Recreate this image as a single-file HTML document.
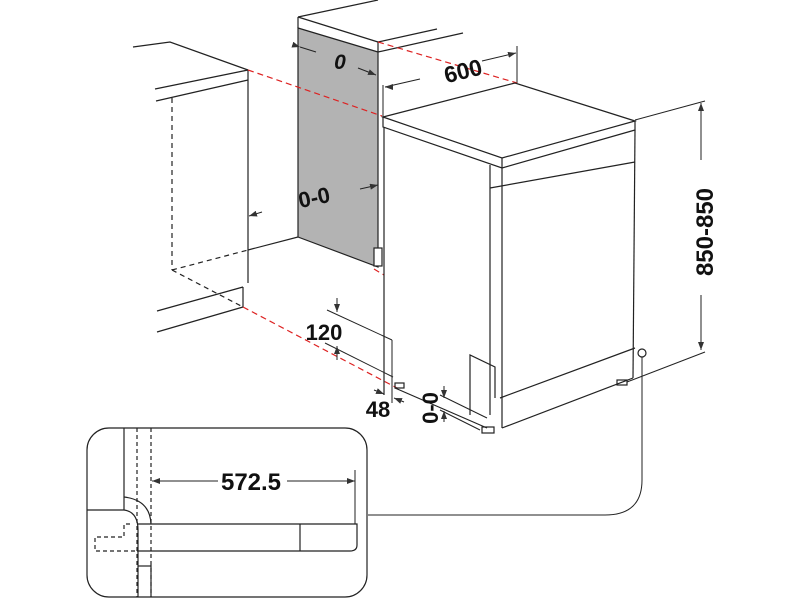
<!DOCTYPE html>
<html><head><meta charset="utf-8"><style>
html,body{margin:0;padding:0;background:#fff;}
svg{display:block;}
text{font-family:"Liberation Sans",sans-serif;font-weight:bold;fill:#111;}
</style></head><body>
<svg width="800" height="600" viewBox="0 0 800 600" xmlns="http://www.w3.org/2000/svg">
<defs>
<marker id="a" markerWidth="8" markerHeight="6" refX="8" refY="3" orient="auto" markerUnits="userSpaceOnUse"><path d="M0,0 L8,3 L0,6 z" fill="#333"/></marker>
</defs>
<g fill="none" stroke="#222" stroke-width="1.2">
<!-- left cabinet -->
<polyline points="133,47 170,42 248,70"/>
<line x1="155" y1="89" x2="248" y2="70"/>
<line x1="156" y1="101" x2="248" y2="80"/>
<line x1="248" y1="70" x2="248" y2="283"/>
<line x1="172" y1="98" x2="172" y2="270" stroke-dasharray="5,4"/>
<line x1="172" y1="270" x2="248" y2="250" stroke-dasharray="5,4"/>
<line x1="172" y1="270" x2="243" y2="307" stroke-dasharray="5,4"/>
<line x1="248" y1="250" x2="298" y2="237"/>
<line x1="157" y1="311" x2="243" y2="287"/>
<line x1="157" y1="332" x2="243" y2="307"/>
<line x1="243" y1="287" x2="243" y2="307"/>
<line x1="262" y1="212" x2="249" y2="216" marker-end="url(#a)" stroke-width="1"/>
<!-- panel block -->
<polygon points="298,28 378,52 378,267 298,237" fill="#b3b3b3" stroke="#222"/>
<line x1="298" y1="17" x2="378" y2="0"/>
<line x1="298" y1="17" x2="378" y2="42"/>
<line x1="298" y1="17" x2="298" y2="28"/>
<line x1="378" y1="42" x2="378" y2="52"/>
<line x1="378" y1="42" x2="437" y2="29"/>
<line x1="378" y1="52" x2="463" y2="33"/>
<rect x="374" y="248" width="8" height="18" fill="#fff"/>
<line x1="300" y1="47" x2="316" y2="52" marker-start="url(#a)" stroke-width="1"/>
<line x1="358" y1="68" x2="376" y2="75" marker-end="url(#a)" stroke-width="1"/>
<line x1="360" y1="189" x2="378" y2="185" marker-end="url(#a)" stroke-width="1"/>
<!-- 600 dim -->
<line x1="385" y1="87" x2="420" y2="79" stroke-width="1"/>
<line x1="387" y1="87" x2="385" y2="87" marker-end="url(#a)" stroke-width="1"/>
<line x1="482" y1="61" x2="516" y2="53" marker-end="url(#a)" stroke-width="1"/>
<line x1="383" y1="85" x2="383" y2="117" stroke-width="1"/>
<line x1="517" y1="46" x2="517" y2="83" stroke-width="1"/>
<!-- red dashed -->
<g stroke="#d22" stroke-dasharray="6,4">
<line x1="248" y1="70" x2="382" y2="116"/>
<line x1="378" y1="42" x2="517" y2="83"/>
<line x1="243" y1="307" x2="397" y2="388"/>
<line x1="374" y1="269" x2="384" y2="275"/>
</g>
<!-- dishwasher -->
<polygon points="383,117 515,83 635,121 502,158" fill="#fff"/>
<polyline points="383,117 383,127 502,168 635,130 635,121"/>
<line x1="502" y1="158" x2="502" y2="168"/>
<line x1="384" y1="127" x2="384" y2="395"/>
<line x1="635" y1="130" x2="633" y2="378"/>
<line x1="490" y1="165" x2="490" y2="415"/>
<line x1="502" y1="168" x2="502" y2="428"/>
<line x1="490" y1="188" x2="635" y2="162"/>
<line x1="500" y1="398" x2="635" y2="348"/>
<line x1="502" y1="428" x2="633" y2="378"/>
<line x1="395" y1="388" x2="487" y2="428"/>
<polyline points="470,415 470,355 495,367 495,398"/>
<rect x="395" y="383" width="9" height="5"/>
<rect x="482" y="427" width="12" height="6"/>
<rect x="617" y="380" width="10" height="5"/>
<!-- 120/48 dims -->
<line x1="327" y1="310" x2="392" y2="340" stroke-width="1"/>
<line x1="392" y1="340" x2="392" y2="403" stroke-width="1"/>
<line x1="325" y1="343" x2="393" y2="377" stroke-width="1"/>
<line x1="337" y1="298" x2="337" y2="312" marker-end="url(#a)" stroke-width="1"/>
<line x1="337" y1="360" x2="337" y2="346" marker-end="url(#a)" stroke-width="1"/>
<line x1="374" y1="390" x2="384" y2="394" marker-end="url(#a)" stroke-width="1"/>
<line x1="404" y1="402" x2="394" y2="398" marker-end="url(#a)" stroke-width="1"/>
<!-- 0-0 lower -->
<line x1="440" y1="395" x2="487" y2="418" stroke-width="1"/>
<line x1="440" y1="410" x2="480" y2="430" stroke-width="1"/>
<line x1="444" y1="386" x2="444" y2="398" marker-end="url(#a)" stroke-width="1"/>
<line x1="444" y1="422" x2="444" y2="411" marker-end="url(#a)" stroke-width="1"/>
<!-- height dim -->
<line x1="635" y1="120" x2="705" y2="101" stroke-width="1"/>
<line x1="627" y1="382" x2="705" y2="352" stroke-width="1"/>
<line x1="701" y1="160" x2="701" y2="103" marker-end="url(#a)" stroke-width="1"/>
<line x1="701" y1="295" x2="701" y2="350" marker-end="url(#a)" stroke-width="1"/>
<circle cx="642" cy="353" r="4" fill="#fff"/>
<path d="M642,357 L642,480 Q642,515 605,515 L368,515" stroke-width="1"/>
<!-- inset -->
<rect x="87" y="428" width="280" height="169" rx="22"/>
<line x1="124" y1="428" x2="124" y2="510"/>
<line x1="137" y1="428" x2="137" y2="597" stroke-dasharray="4,3"/>
<line x1="151" y1="428" x2="151" y2="597" stroke-dasharray="4,3"/>
<path d="M87,510 L124,510 Q138,512 138,530 L138,597"/>
<path d="M124,497 Q150,500 151,524"/>
<path d="M151,565 L151,597"/>
<line x1="138" y1="566" x2="151" y2="566"/>
<path d="M137,524 L357,524 L357,545 Q357,551 350,551 L137,551"/>
<path d="M130,524 L124,524 L124,537 L95,537 L95,551 L137,551" stroke-dasharray="4,3"/>
<line x1="300" y1="524" x2="300" y2="551"/>
<line x1="355" y1="470" x2="355" y2="524" stroke-width="1"/>
<line x1="218" y1="481" x2="152" y2="481" marker-end="url(#a)" stroke-width="1"/>
<line x1="287" y1="481" x2="355" y2="481" marker-end="url(#a)" stroke-width="1"/>
</g>
<text x="340" y="69" font-size="21" text-anchor="middle" font-style="italic">0</text>
<text x="463" y="79" font-size="23" text-anchor="middle" transform="rotate(-14 463 71)">600</text>
<text x="314" y="205" font-size="22" text-anchor="middle" transform="rotate(-12 314 197)">0-0</text>
<text x="324" y="340" font-size="22" text-anchor="middle">120</text>
<text x="378" y="417" font-size="22" text-anchor="middle">48</text>
<text x="430" y="416" font-size="22" text-anchor="middle" transform="rotate(-90 430 408)">0-0</text>
<text x="705" y="240" font-size="24" text-anchor="middle" transform="rotate(-90 705 232)">850-850</text>
<text x="251" y="490" font-size="24" text-anchor="middle">572.5</text>
</svg>
</body></html>
